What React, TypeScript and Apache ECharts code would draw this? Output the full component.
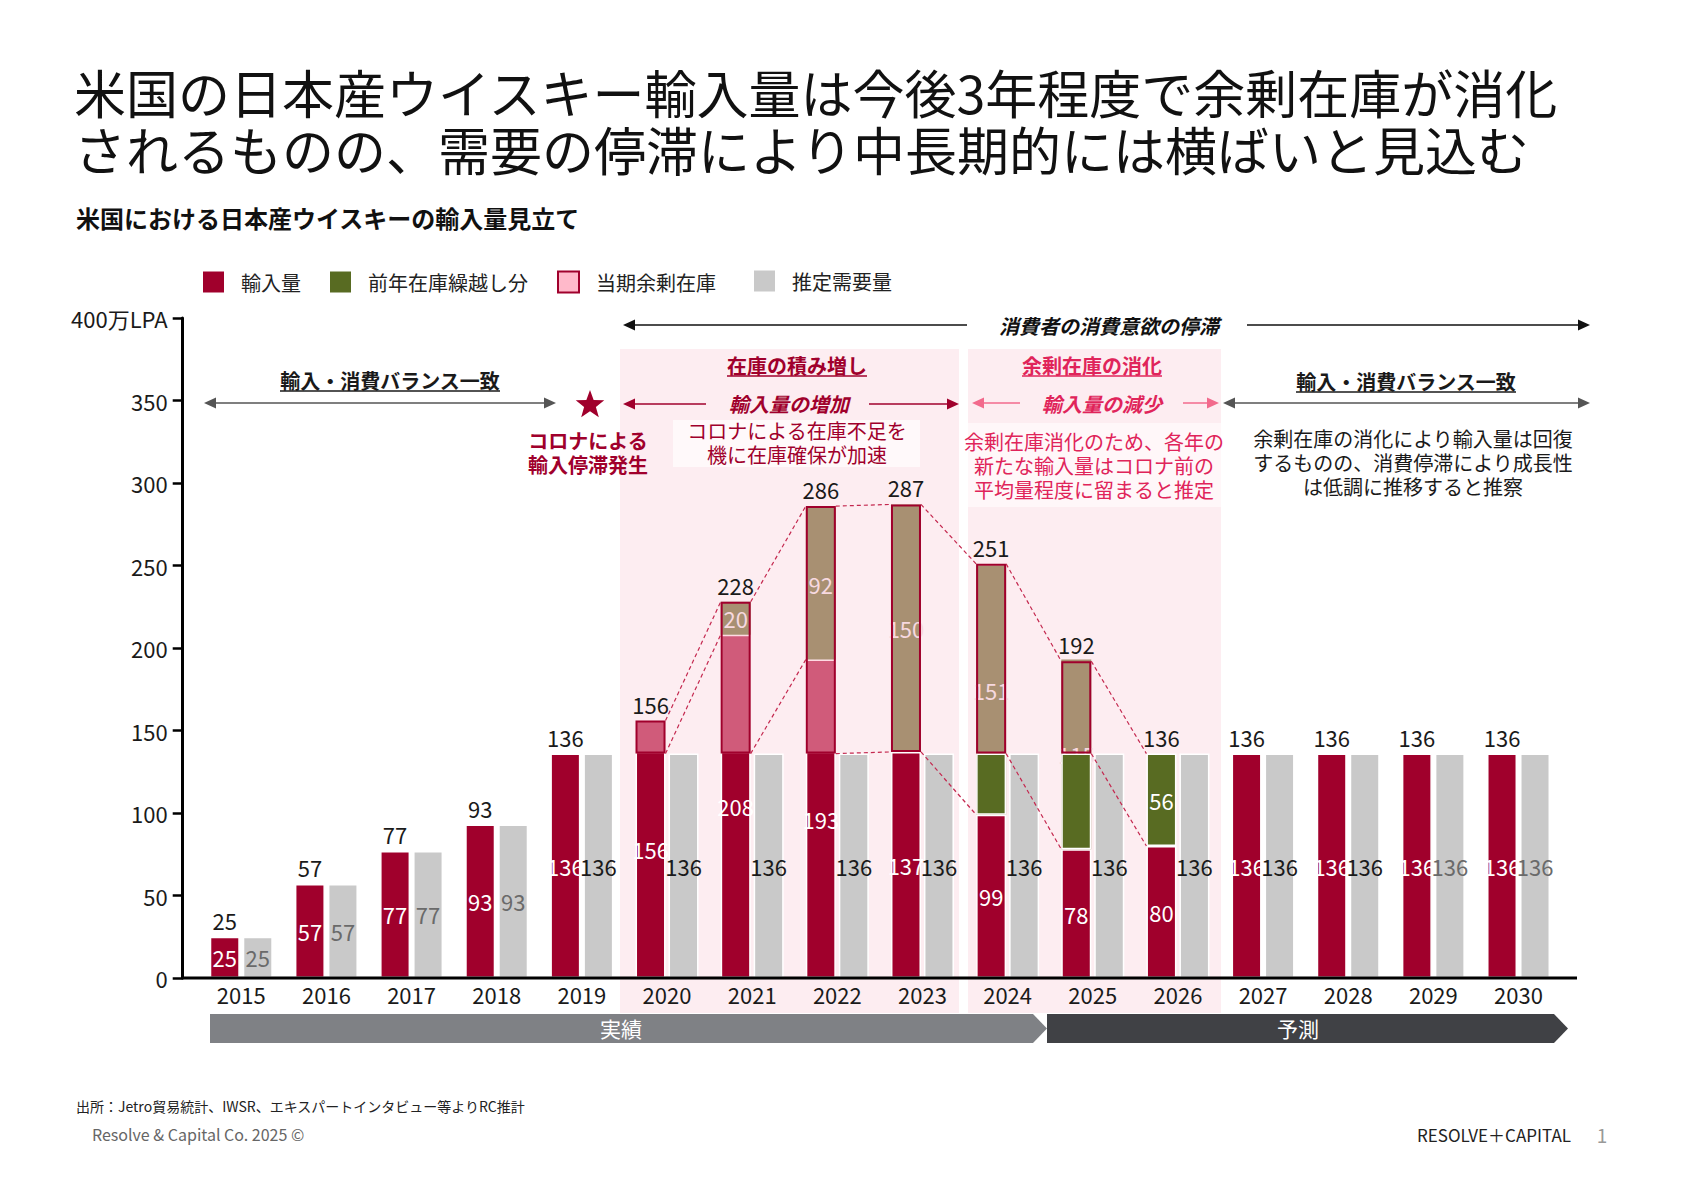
import React, { useEffect, useRef } from "react";
import * as echarts from "echarts";

const FONT = '"Noto Sans CJK JP", "Noto Sans", sans-serif';

// ---------- data ----------
const years = ["2015", "2016", "2017", "2018", "2019", "2020", "2021", "2022", "2023", "2024", "2025", "2026", "2027", "2028", "2029", "2030"];
// 輸入量 (full import bar, label at its centre)
const importVol = [25, 57, 77, 93, 136, 156, 208, 193, 137, 99, 78, 80, 136, 136, 136, 136];
// 推定需要量
const demand = [25, 57, 77, 93, 136, 136, 136, 136, 136, 136, 136, 136, 136, 136, 136, 136];
const demandLabelDark = [false, false, false, false, true, true, true, true, true, true, true, true, true, true, false, false];
// 当期余剰在庫 (floating: base + length)
const surplusBase = [null, null, null, null, null, 136, 136, 136, 137, 99, 78, null, null, null, null, null];
const surplus = [null, null, null, null, null, 20, 72, 57, null, null, null, null, null, null, null, null];
// 在庫 (accumulated stock, tan)
const stock = [null, null, null, null, null, null, 20, 92, 150, 151, 115, null, null, null, null, null];
// 前年在庫繰越し分 (floating)
const carryBase = [null, null, null, null, null, null, null, null, null, 99, 78, 80, null, null, null, null];
const carry = [null, null, null, null, null, null, null, null, null, 37, 58, 56, null, null, null, null];
const carryLabelShown = [false, false, false, false, false, false, false, false, false, false, false, true, false, false, false, false];
// outline around surplus / stock part
const outlineBase = [null, null, null, null, null, 136, 136, 136, 137, 136, 136, null, null, null, null, null];
const outlineLen = [null, null, null, null, null, 20, 92, 150, 150, 115, 56, null, null, null, null, null];
// totals above the left bar
const totals = [25, 57, 77, 93, 136, 156, 228, 286, 287, 251, 192, 136, 136, 136, 136, 136];
// dashed connectors (from year index -> next year)
const connectorFrom = [5, 6, 7, 8, 9, 10];
const connectorLowerFrom = [136, 136, 136, 137, 136, 136];

const RED = "#A0002C";
const GREEN = "#586B22";
const TAN = "#A89072";
const GRAY = "#C9C9C9";
const MAGENTA = "#E0245A";
const PINKBG = "#FDEDF1";

const d = (arr: (number | null)[]) => arr.map((v) => (v == null ? "-" : v));
const zeros = years.map(() => 0);

function txt(text: string, x: number, y: number, size: number, color: string, o: any = {}) {
  const align = o.align || "center";
  return {
    type: "text",
    z: 20,
    style: {
      text,
      x,
      y,
      fill: color,
      fontSize: size,
      fontFamily: FONT,
      fontWeight: o.bold ? "bold" : "normal",
      fontStyle: o.italic ? "italic" : "normal",
      textAlign: align,
      align,
      textVerticalAlign: "middle",
      verticalAlign: "middle",
      lineHeight: o.lh || Math.round(size * 1.15),
    },
  };
}

// several lines as separate texts, each line's box no taller than the spacing
function lines(list: string[], x: number, y0: number, step: number, size: number, color: string, o: any = {}) {
  return list.map((t, k) => txt(t, x, y0 + k * step, size, color, { ...o, lh: step - 1 }));
}

function arrow(x1: number, x2: number, y: number, color: string, headL: boolean, headR: boolean, w = 1.5) {
  const L = 12, H = 5.5;
  const els: any[] = [
    {
      type: "line",
      z: 20,
      shape: { x1: headL ? x1 + L - 1 : x1, y1: y, x2: headR ? x2 - L + 1 : x2, y2: y },
      style: { stroke: color, lineWidth: w },
    },
  ];
  if (headL) els.push({ type: "polygon", z: 20, shape: { points: [[x1, y], [x1 + L, y - H], [x1 + L, y + H]] }, style: { fill: color } });
  if (headR) els.push({ type: "polygon", z: 20, shape: { points: [[x2, y], [x2 - L, y - H], [x2 - L, y + H]] }, style: { fill: color } });
  return els;
}

function underline(x1: number, x2: number, y: number, color: string) {
  return { type: "line", z: 20, shape: { x1, y1: y, x2, y2: y }, style: { stroke: color, lineWidth: 1.5 } };
}

function star(cx: number, cy: number, R: number, r: number, color: string) {
  const pts: number[][] = [];
  for (let k = 0; k < 10; k++) {
    const rad = k % 2 === 0 ? R : r;
    const a = -Math.PI / 2 + (k * Math.PI) / 5;
    pts.push([cx + rad * Math.cos(a), cy + rad * Math.sin(a)]);
  }
  return { type: "polygon", z: 20, shape: { points: pts }, style: { fill: color } };
}

const BAR_W = 30;
const BAR_GAP = "10%";
const LABEL_SIZE = 22;

function catAxis(show: boolean) {
  return {
    type: "category",
    data: years,
    show,
    boundaryGap: true,
    axisLine: { show: false },
    axisTick: { show: false },
    axisLabel: { show, fontSize: 22, color: "#1a1a1a", margin: 5, fontFamily: FONT },
  };
}

function dummy(axis: number) {
  return {
    type: "bar",
    xAxisIndex: axis,
    data: zeros,
    barWidth: BAR_W,
    barGap: BAR_GAP,
    silent: true,
    itemStyle: { color: "transparent" },
    label: { show: false },
  };
}

const legendBase = {
  icon: "rect",
  top: 265.5,
  itemWidth: 21,
  itemHeight: 21,
  itemGap: 29,
  selectedMode: false,
  textStyle: { fontSize: 20, color: "#222", fontFamily: FONT, padding: [0, 0, 0, 12] },
};

export default function App() {
  const ref = useRef<HTMLDivElement>(null);

  useEffect(() => {
    document.body.style.margin = "0";
    if (!ref.current) return;
    const chart = echarts.init(ref.current, null, { renderer: "svg" });

    const graphics: any[] = [
      // background regions
      { type: "rect", z: 0, shape: { x: 620, y: 349, width: 339, height: 664 }, style: { fill: PINKBG } },
      { type: "rect", z: 0, shape: { x: 968, y: 349, width: 253, height: 664 }, style: { fill: PINKBG } },
      { type: "rect", z: 1, shape: { x: 673, y: 420, width: 247, height: 47 }, style: { fill: "#FFF9FA" } },
      { type: "rect", z: 1, shape: { x: 968, y: 423, width: 253, height: 84 }, style: { fill: "#FFF7F9" } },
      // x axis line
      { type: "line", z: 15, shape: { x1: 182, y1: 978, x2: 1577, y2: 978 }, style: { stroke: "#000", lineWidth: 3 } },
      // bottom banners
      { type: "polygon", z: 5, shape: { points: [[210, 1014], [1033, 1014], [1047, 1028.5], [1033, 1043], [210, 1043]] }, style: { fill: "#7F8185" } },
      { type: "polygon", z: 5, shape: { points: [[1047, 1014], [1554, 1014], [1568, 1028.5], [1554, 1043], [1047, 1043]] }, style: { fill: "#404145" } },
      txt("実績", 621, 1028, 21, "#fff"),
      txt("予測", 1298, 1028, 21, "#fff"),
      // titles
      txt("米国の日本産ウイスキー輸入量は今後3年程度で余剰在庫が消化", 74, 91, 52, "#111", { align: "left", lh: 54 }),
      txt("されるものの、需要の停滞により中長期的には横ばいと見込む", 74, 148, 52, "#111", { align: "left", lh: 54 }),
      txt("米国における日本産ウイスキーの輸入量見立て", 76, 217, 24, "#111", { align: "left", bold: true }),
      // top arrow
      ...arrow(623, 967, 325, "#111", true, false),
      ...arrow(1247, 1590, 325, "#111", false, true),
      txt("消費者の消費意欲の停滞", 1109, 325, 20, "#111", { bold: true, italic: true }),
      // left balance
      txt("輸入・消費バランス一致", 390, 380, 20, "#1a1a1a", { bold: true }),
      underline(280, 500, 391, "#1a1a1a"),
      ...arrow(204, 556, 403, "#555", true, true),
      // covid
      star(590, 405, 15, 6.2, RED),
      ...lines(["コロナによる", "輸入停滞発生"], 588, 440, 24, 20, RED, { bold: true }),
      // region 1
      txt("在庫の積み増し", 797, 365, 20, RED, { bold: true }),
      underline(727, 867, 376, RED),
      txt("輸入量の増加", 789, 403, 20, RED, { bold: true, italic: true }),
      ...arrow(623, 706, 404, RED, true, false),
      ...arrow(869, 959, 404, RED, false, true),
      ...lines(["コロナによる在庫不足を", "機に在庫確保が加速"], 797, 430, 24, 20, RED),
      // region 2
      txt("余剰在庫の消化", 1092, 365, 20, MAGENTA, { bold: true }),
      underline(1022, 1162, 376, MAGENTA),
      txt("輸入量の減少", 1102, 403, 20, MAGENTA, { bold: true, italic: true }),
      ...arrow(972, 1020, 403, "#F26A8C", true, false),
      ...arrow(1183, 1219, 403, "#F26A8C", false, true),
      ...lines(["余剰在庫消化のため、各年の", "新たな輸入量はコロナ前の", "平均量程度に留まると推定"], 1094, 441, 24, 20, MAGENTA),
      // right balance
      txt("輸入・消費バランス一致", 1406, 381, 20, "#1a1a1a", { bold: true }),
      underline(1296, 1516, 392, "#1a1a1a"),
      ...arrow(1223, 1590, 403, "#555", true, true),
      ...lines(["余剰在庫の消化により輸入量は回復", "するものの、消費停滞により成長性", "は低調に推移すると推察"], 1413, 438, 24, 20, "#1a1a1a"),
      // footer
      txt("出所：Jetro貿易統計、IWSR、エキスパートインタビュー等よりRC推計", 76, 1106, 14, "#222", { align: "left" }),
      txt("Resolve & Capital Co. 2025 ©", 92, 1134, 16, "#666", { align: "left" }),
      txt("RESOLVE＋CAPITAL", 1571, 1134, 17, "#222", { align: "right" }),
      txt("1", 1602, 1134, 19, "#999"),
    ];

    const connectorData = connectorFrom.map((i, k) => [i, totals[i], totals[i + 1], connectorLowerFrom[k], importVol[i + 1]]);

    const option: any = {
      animation: false,
      textStyle: { fontFamily: FONT },
      grid: { left: 198.7, right: 122.9, top: 318, bottom: 213, containLabel: false },
      legend: [
        {
          ...legendBase,
          left: 198,
          data: [
            { name: "輸入量", itemStyle: { color: RED, borderWidth: 0 } },
            { name: "前年在庫繰越し分", itemStyle: { color: GREEN, borderWidth: 0 } },
            { name: "当期余剰在庫", itemStyle: { color: "#FFB9CA", borderColor: RED, borderWidth: 2 } },
          ],
        },
        {
          ...legendBase,
          left: 749,
          data: [{ name: "推定需要量", itemStyle: { color: GRAY, borderWidth: 0 } }],
        },
      ],
      xAxis: [catAxis(true), catAxis(false), catAxis(false), catAxis(false), catAxis(false)],
      yAxis: {
        type: "value",
        min: 0,
        max: 400,
        interval: 50,
        offset: 16,
        axisLine: { show: true, lineStyle: { color: "#000", width: 3 } },
        axisTick: { show: true, length: 10, lineStyle: { color: "#000", width: 2.5 } },
        splitLine: { show: false },
        axisLabel: {
          fontSize: 22,
          color: "#1a1a1a",
          margin: 15,
          fontFamily: FONT,
          formatter: (v: number) => (v === 400 ? "400万LPA" : String(v)),
        },
      },
      graphic: { elements: graphics },
      series: [
        {
          name: "輸入量",
          type: "bar",
          xAxisIndex: 0,
          data: importVol,
          barWidth: BAR_W,
          barGap: BAR_GAP,
          z: 2,
          itemStyle: { color: RED, borderColor: "#fff", borderWidth: 1.5 },
          label: { show: true, position: "inside", color: "#fff", fontSize: LABEL_SIZE, fontFamily: FONT },
        },
        {
          name: "推定需要量",
          type: "bar",
          xAxisIndex: 0,
          data: demand.map((v, i) => ({ value: v, label: { color: demandLabelDark[i] ? "#1a1a1a" : "#6a6a6a" } })),
          barWidth: BAR_W,
          barGap: BAR_GAP,
          z: 2,
          itemStyle: { color: GRAY, borderColor: "#fff", borderWidth: 1.5 },
          label: { show: true, position: "inside", fontSize: LABEL_SIZE, fontFamily: FONT },
        },
        // overlay: surplus + stock (axis 1)
        {
          type: "bar",
          xAxisIndex: 1,
          stack: "ov",
          data: d(surplusBase),
          barWidth: BAR_W,
          barGap: BAR_GAP,
          silent: true,
          z: 3,
          itemStyle: { color: "transparent" },
        },
        {
          name: "当期余剰在庫",
          type: "bar",
          xAxisIndex: 1,
          stack: "ov",
          data: d(surplus),
          barWidth: BAR_W,
          barGap: BAR_GAP,
          z: 3,
          itemStyle: { color: "rgba(255,182,200,0.5)" },
        },
        {
          name: "在庫",
          type: "bar",
          xAxisIndex: 1,
          stack: "ov",
          data: d(stock),
          barWidth: BAR_W,
          barGap: BAR_GAP,
          z: 3,
          itemStyle: { color: TAN },
          label: { show: true, position: "inside", color: "#F7D9E0", fontSize: LABEL_SIZE, fontFamily: FONT },
        },
        dummy(1),
        // carry-over (axis 2)
        {
          type: "bar",
          xAxisIndex: 2,
          stack: "gr",
          data: d(carryBase),
          barWidth: BAR_W,
          barGap: BAR_GAP,
          silent: true,
          z: 4,
          itemStyle: { color: "transparent" },
        },
        {
          name: "前年在庫繰越し分",
          type: "bar",
          xAxisIndex: 2,
          stack: "gr",
          data: carry.map((v, i) => (v == null ? "-" : { value: v, label: { show: carryLabelShown[i] } })),
          barWidth: BAR_W,
          barGap: BAR_GAP,
          z: 4,
          itemStyle: { color: GREEN, borderColor: "#fff", borderWidth: 1.5 },
          label: { show: false, position: "inside", color: "#fff", fontSize: LABEL_SIZE, fontFamily: FONT },
        },
        dummy(2),
        // outline (axis 3)
        {
          type: "bar",
          xAxisIndex: 3,
          stack: "ol",
          data: d(outlineBase),
          barWidth: BAR_W,
          barGap: BAR_GAP,
          silent: true,
          z: 5,
          itemStyle: { color: "transparent" },
        },
        {
          type: "bar",
          xAxisIndex: 3,
          stack: "ol",
          data: d(outlineLen),
          barWidth: BAR_W,
          barGap: BAR_GAP,
          silent: true,
          z: 5,
          itemStyle: { color: "transparent", borderColor: RED, borderWidth: 2 },
        },
        dummy(3),
        // totals (axis 4)
        {
          type: "bar",
          xAxisIndex: 4,
          data: totals,
          barWidth: BAR_W,
          barGap: BAR_GAP,
          silent: true,
          z: 5,
          itemStyle: { color: "transparent" },
          label: { show: true, position: "top", distance: 6, color: "#1a1a1a", fontSize: LABEL_SIZE, fontFamily: FONT },
        },
        dummy(4),
        // dashed connectors
        {
          type: "custom",
          xAxisIndex: 0,
          yAxisIndex: 0,
          z: 6,
          silent: true,
          clip: false,
          data: connectorData,
          encode: { x: 0, y: [1, 2, 3, 4] },
          renderItem: (params: any, api: any) => {
            const i = api.value(0);
            const a = api.coord([i, api.value(1)]);
            const b = api.coord([i + 1, api.value(2)]);
            const c = api.coord([i, api.value(3)]);
            const e = api.coord([i + 1, api.value(4)]);
            const rightEdge = -1.5; // right edge of left bar relative to category centre
            const leftEdge = -31.5; // left edge of left bar
            const st = { stroke: "#C4284F", lineWidth: 1.2, lineDash: [4, 3] };
            return {
              type: "group",
              children: [
                { type: "line", shape: { x1: a[0] + rightEdge, y1: a[1], x2: b[0] + leftEdge, y2: b[1] }, style: st },
                { type: "line", shape: { x1: c[0] + rightEdge, y1: c[1], x2: e[0] + leftEdge, y2: e[1] }, style: st },
              ],
            };
          },
        },
      ],
    };

    chart.setOption(option);
    return () => chart.dispose();
  }, []);

  return <div ref={ref} style={{ width: 1684, height: 1191, background: "#fff" }} />;
}
